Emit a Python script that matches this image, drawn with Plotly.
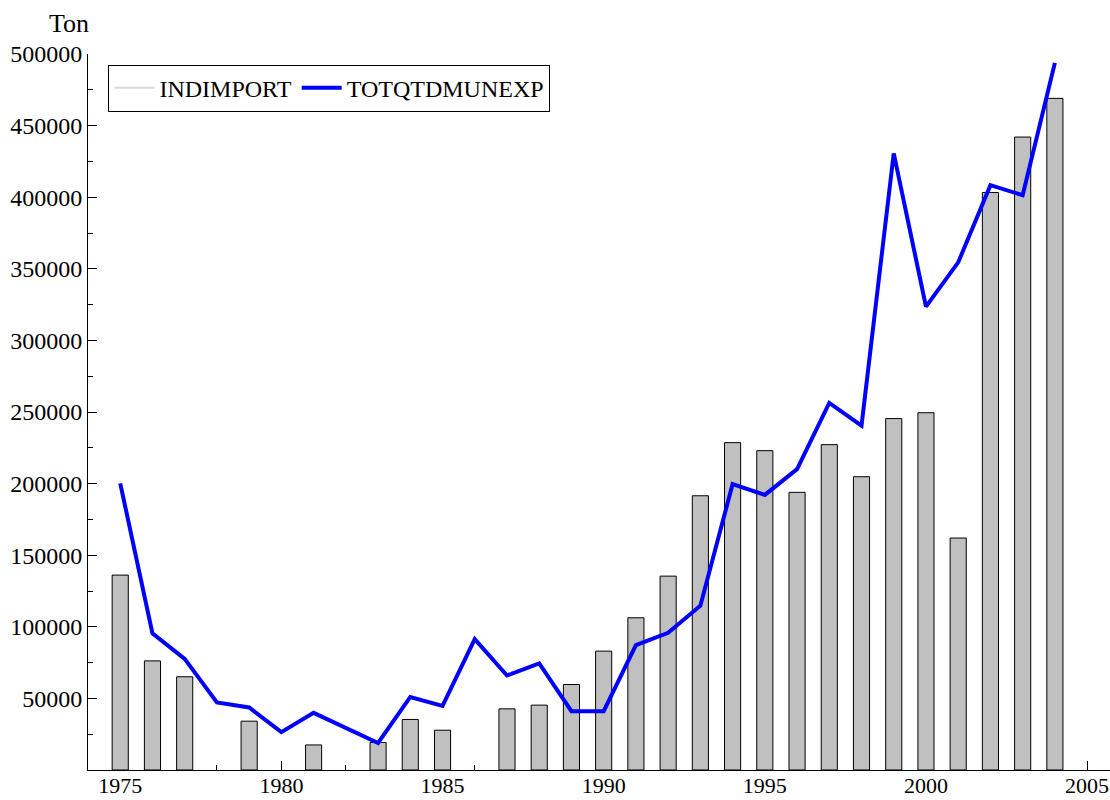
import plotly.graph_objects as go

years = list(range(1975, 2005))
indimport = [136100, 76200, 65100, None, 34100, None, 17500, None, 19200, 35300,
             27800, None, 42700, 45300, 59700, 83000, 106300, 135400, 191500, 228600,
             223000, 193900, 227200, 204800, 245400, 249500, 162000, 403300, 442000, 469000]
totqtdmunexp = [200200, 95400, 77600, 47200, 43700, 26400, 39900, 29200, 18900, 51000,
                44800, 91400, 66000, 74400, 41100, 41100, 87200, 95800, 114700, 199600,
                192100, 210100, 256300, 240400, 430600, 323600, 354500, 408400, 401400, 493800]
x_ticks = [1975, 1980, 1985, 1990, 1995, 2000, 2005]
y_ticks = list(range(50000, 500001, 50000))

FONT = "Liberation Serif"
FS = 24

fig = go.Figure()
fig.add_trace(go.Bar(
    x=years, y=indimport, width=0.5, name="INDIMPORT", showlegend=False,
    marker=dict(color="#c0c0c0", line=dict(color="#000000", width=1)),
))
fig.add_trace(go.Scatter(
    x=[None], y=[None], mode="lines", name="INDIMPORT",
    line=dict(color="#d8d8d8", width=2),
))
fig.add_trace(go.Scatter(
    x=years, y=totqtdmunexp, mode="lines", name="TOTQTDMUNEXP",
    line=dict(color="#0000ff", width=4),
))

fig.update_layout(
    width=1110, height=800,
    margin=dict(l=88, r=0, t=54, b=30, autoexpand=False),
    plot_bgcolor="white", paper_bgcolor="white",
    font=dict(family=FONT, size=FS, color="black"),
    showlegend=True,
    legend=dict(
        orientation="h", x=0.02, y=0.985, xanchor="left", yanchor="top",
        bordercolor="black", borderwidth=1, bgcolor="white",
        font=dict(family=FONT, size=FS, color="black"),
        itemwidth=40, tracegroupgap=0,
    ),
    xaxis=dict(
        range=[1974, 2005.71], tickvals=x_ticks, ticks="inside", ticklen=9,
        tickcolor="black", showline=True, linecolor="black", linewidth=1,
        showgrid=False, zeroline=False, layer="below traces",
        automargin=False, ticklabeloverflow="allow", ticklabelstandoff=-4,
        tickfont=dict(family=FONT, size=22, color="black"),
        minor=dict(dtick=1, tick0=1975, ticks="inside", ticklen=5, tickcolor="black", showgrid=False),
    ),
    yaxis=dict(
        range=[0, 500000], tickvals=y_ticks, ticks="inside", ticklen=9,
        tickcolor="black", showline=True, linecolor="black", linewidth=1,
        showgrid=False, zeroline=False, tickformat="d",
        automargin=False, ticklabeloverflow="allow",
        tickfont=dict(family=FONT, size=FS, color="black"),
        minor=dict(dtick=25000, tick0=0, ticks="inside", ticklen=5, tickcolor="black", showgrid=False),
    ),
    annotations=[dict(
        text="Ton", xref="paper", yref="paper", x=-0.019, y=1.0, yshift=31,
        xanchor="center", yanchor="middle", showarrow=False,
        font=dict(family=FONT, size=26, color="black"),
    )],
)

fig.write_html("out.html", config={"displayModeBar": False},
               post_script="document.body.style.margin='0';document.body.style.overflow='hidden';")
